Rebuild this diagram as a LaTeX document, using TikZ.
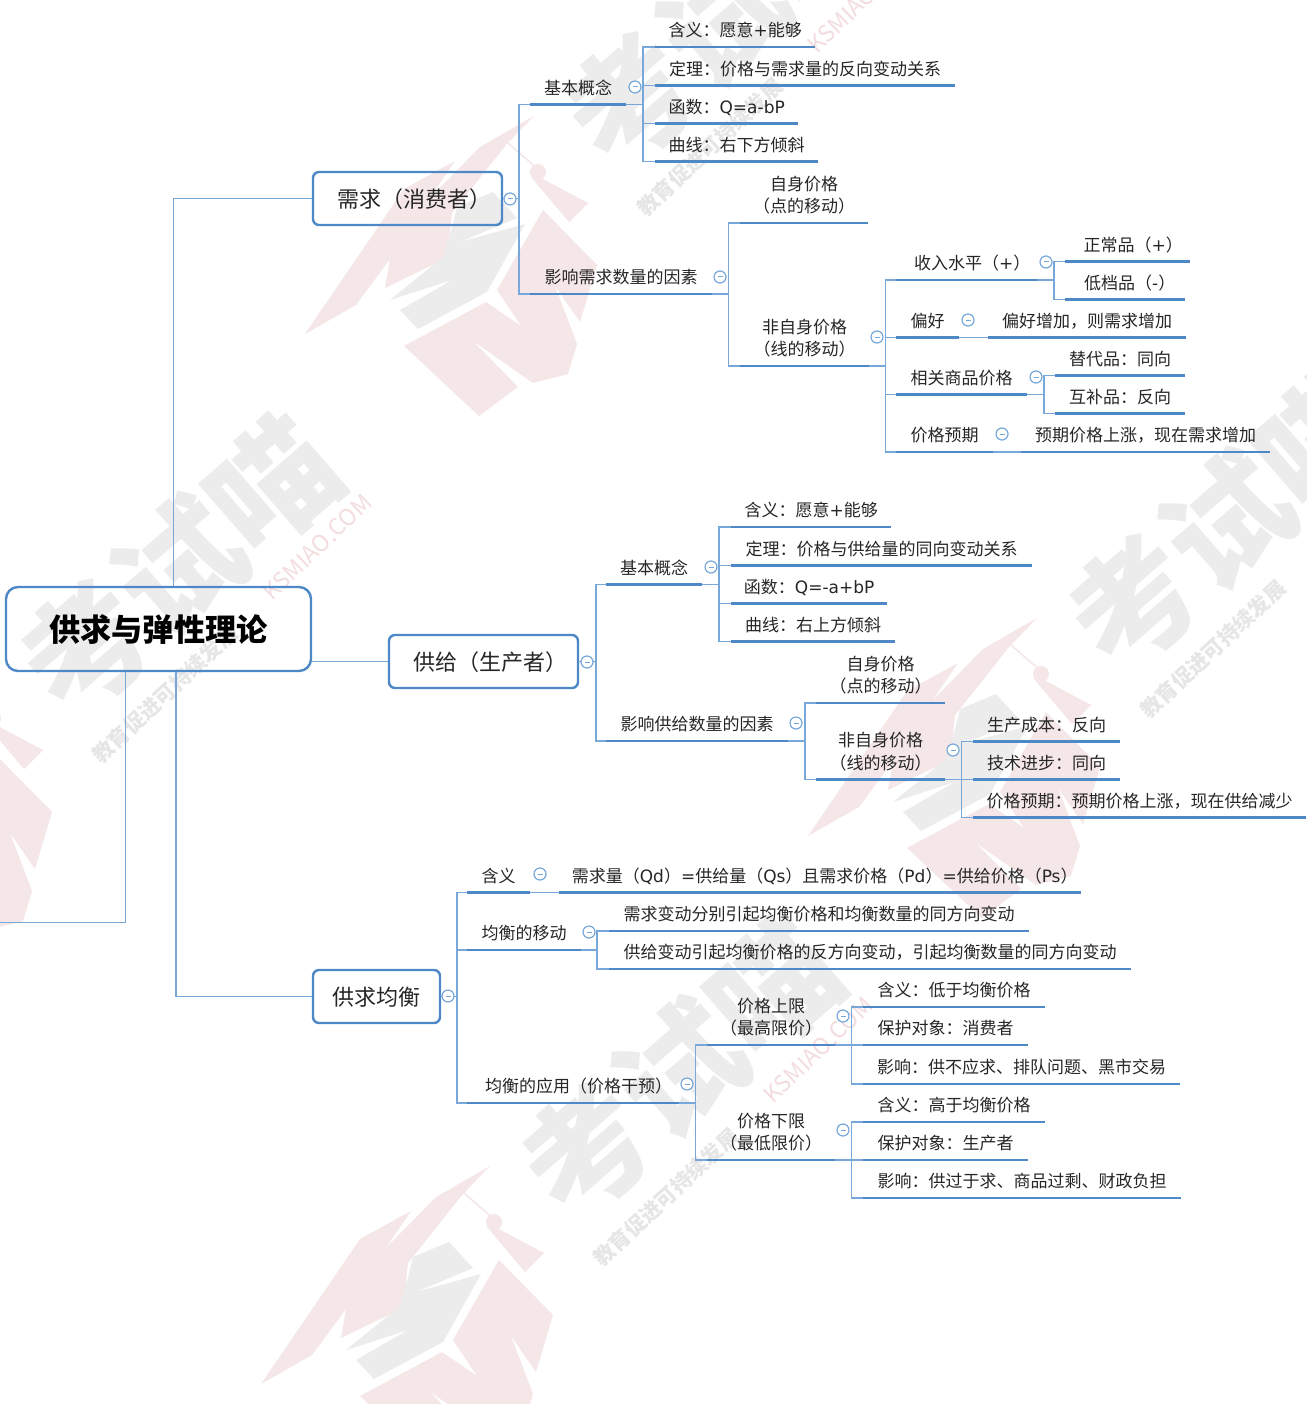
\documentclass[tikz,border=0pt]{standalone}
\usepackage{fontspec}
\setmainfont{Noto Sans CJK SC}
\newfontfamily\latn{DejaVu Sans}
\newcommand{\lt}[1]{{\latn #1}}
\definecolor{boxline}{HTML}{4F88C6}
\definecolor{linkline}{HTML}{78A8DA}
\definecolor{inkdark}{HTML}{262626}
\definecolor{markred}{HTML}{F5E6E7}
\definecolor{markurlc}{HTML}{F3DDDE}
\definecolor{markgrey}{HTML}{ECECEC}
\definecolor{marksmall}{HTML}{E6E6E6}
\tikzset{
 rootbox/.style={draw=boxline,line width=2.4pt,rounded corners=12pt,minimum width=305pt,minimum height=84pt,text height=30pt,text depth=4.4pt,text=black,font=\fontsize{31.2}{36}\selectfont\bfseries},
 lvlbox/.style={draw=boxline,line width=2.4pt,rounded corners=6pt,minimum height=53pt,text height=22pt,text depth=4.2pt,text=inkdark,font=\fontsize{22}{26}\selectfont},
 uline/.style={draw=boxline,line width=2.4pt},
 link/.style={draw=linkline,line width=1.7pt},
 topic/.style={anchor=south west,inner xsep=0pt,inner ysep=7pt,text depth=3pt,align=center,text=inkdark,font=\fontsize{17}{22.5}\selectfont,
  append after command={(\tikzlastnode.south west) edge[uline] (\tikzlastnode.south east)}},
 fold/.style={circle,draw=linkline,fill=white,line width=1.2pt,minimum size=12pt,inner sep=0pt,
  path picture={\draw[draw=linkline,line width=1pt] ([xshift=-2.5pt]path picture bounding box.center) -- ([xshift=2.5pt]path picture bounding box.center);}},
}
\begin{document}
\begin{tikzpicture}[x=1pt,y=-1pt]
\useasboundingbox (0,0) rectangle (1306,1404);
\fill[white] (0,0) rectangle (1306,1404);

% watermark
\begin{scope}
\clip (0,0) rectangle (1306,1404);
\foreach \wx/\wy/\wn in {534/116/a,-11/663/b,1037/618/c,490/1166/d} {
 \begin{scope}[shift={(\wx,\wy)}]
 \fill[markred] (0,0) -- (-54,31) -- (-105,83) -- (-79,45) -- (-130,73) -- (-229,218) -- (-178,189) -- (-144,143) -- (-149,172) -- (-87,142) -- (-82,97) -- (-28,29) -- cycle;
 \draw[markred,line width=1.5pt] (-26,27) -- (5,54);
 \fill[markred] (4,56) circle (8);
 \fill[markred] (5,61) -- (54,87) -- (35,106) -- (-3,61) -- cycle;
 \fill[markred] (-37,174) -- (9,94) -- (63,149) -- (46,206) -- (21,170) -- (43,228) -- (34,258) -- (-1,267) -- (-61,225) -- (-16,271) -- (-55,300) -- (-130,230) -- (-48,186) -- (-13,210) -- cycle;
 \fill[markgrey] (-77,91) -- (-41,76) -- (-17,102) -- (-74,126) -- (-9,108) -- (-47,176) -- (-116,213) -- (-134,194) -- (-82,164) -- (-144,184) -- (-91,141) -- (-81,108) -- cycle;
 \node[rotate=41,text=markgrey,font=\fontsize{124}{130}\selectfont\bfseries] (markbig\wn) at (190,-97) {考试喵};
 \node[rotate=43,text=marksmall,font=\fontsize{21}{24}\selectfont\bfseries] (marksub\wn) at (176,31) {教育促进可持续发展};
 \node[rotate=44,text=markurlc,font=\fontsize{23}{26}\selectfont] (markurl\wn) at (328,-116) {KSMIAO.COM};
 \end{scope}
}
\end{scope}

% main boxes
\node[rootbox] (root) at (158.5,629) {供求与弹性理论};
\node[lvlbox,minimum width=189pt] (dmd) at (407.5,198.5) {\hspace*{13pt}需求（消费者）};
\node[lvlbox,minimum width=189pt] (sup) at (483.5,661.5) {\hspace*{13pt}供给（生产者）};
\node[lvlbox,minimum width=127pt] (eq) at (376.5,996.5) {供求均衡};
\coordinate (leftend) at (0,922.5);

% demand
\node[topic,minimum width=96pt] (dmdbasic) at (530,104.5) {基本概念};
\node[topic,minimum width=160pt] (dmdmean) at (655,47) {含义：愿意\lt{+}能够};
\node[topic,minimum width=300pt] (dmdlaw) at (655,85.5) {定理：价格与需求量的反向变动关系};
\node[topic,minimum width=143pt] (dmdfunc) at (655,123.5) {函数：\lt{Q=a-bP}};
\node[topic,minimum width=163pt] (dmdcurve) at (655,161.5) {曲线：右下方倾斜};
\node[topic,minimum width=182pt] (dmdfact) at (530,294) {影响需求数量的因素};
\node[topic,minimum width=128pt] (dmdown) at (740,223) {自身价格\\（点的移动）};
\node[topic,minimum width=129pt] (dmdother) at (740,366) {非自身价格\\（线的移动）};
\node[topic,minimum width=141pt] (income) at (896,280) {\hspace*{11pt}收入水平（\lt{+}）};
\node[topic,minimum width=125pt] (normal) at (1065,261.5) {\hspace*{11pt}正常品（\lt{+}）};
\node[topic,minimum width=120pt] (inferior) at (1065,299.5) {\hspace*{9pt}低档品（\lt{-}）};
\node[topic,minimum width=63pt] (pref) at (896,337.5) {偏好};
\node[topic,minimum width=198pt] (prefup) at (988,337.5) {偏好增加，则需求增加};
\node[topic,minimum width=131pt] (related) at (896,394.5) {相关商品价格};
\node[topic,minimum width=130pt] (subst) at (1055,375.5) {替代品：同向};
\node[topic,minimum width=130pt] (compl) at (1055,413.5) {互补品：反向};
\node[topic,minimum width=97pt] (expect) at (896,452) {价格预期};
\node[topic,minimum width=249pt] (expectup) at (1021,452) {预期价格上涨，现在需求增加};

% supply
\node[topic,minimum width=96pt] (supbasic) at (606,584.5) {基本概念};
\node[topic,minimum width=160pt] (supmean) at (731,527) {含义：愿意\lt{+}能够};
\node[topic,minimum width=301pt] (suplaw) at (731,565.5) {定理：价格与供给量的同向变动关系};
\node[topic,minimum width=156pt] (supfunc) at (731,603.5) {函数：\lt{Q=-a+bP}};
\node[topic,minimum width=164pt] (supcurve) at (731,641.5) {曲线：右上方倾斜};
\node[topic,minimum width=182pt] (supfact) at (606,741) {影响供给数量的因素};
\node[topic,minimum width=129pt] (supown) at (816,703) {自身价格\\（点的移动）};
\node[topic,minimum width=129pt] (supother) at (816,779.5) {非自身价格\\（线的移动）};
\node[topic,minimum width=147pt] (cost) at (973,741.5) {生产成本：反向};
\node[topic,minimum width=147pt] (tech) at (973,779.5) {技术进步：同向};
\node[topic,minimum width=333pt] (supexpect) at (973,817.5) {价格预期：预期价格上涨，现在供给减少};

% equilibrium
\node[topic,minimum width=63pt] (eqmean) at (467,892.5) {含义};
\node[topic,minimum width=522pt] (eqmeantxt) at (559,892.5) {\hspace*{9pt}需求量（\lt{Qd}）\lt{=}供给量（\lt{Qs}）且需求价格（\lt{Pd}）\lt{=}供给价格（\lt{Ps}）};
\node[topic,minimum width=114pt] (eqshift) at (467,950) {均衡的移动};
\node[topic,minimum width=420pt] (eqdmd) at (609,931) {需求变动分别引起均衡价格和均衡数量的同方向变动};
\node[topic,minimum width=522pt] (eqsup) at (609,969) {供给变动引起均衡价格的反方向变动，引起均衡数量的同方向变动};
\node[topic,minimum width=212pt] (eqapply) at (467,1103) {\hspace*{11pt}均衡的应用（价格干预）};
\node[topic,minimum width=128pt] (ceiling) at (707,1045) {价格上限\\（最高限价）};
\node[topic,minimum width=128pt] (floor) at (707,1160) {价格下限\\（最低限价）};
\node[topic,minimum width=182pt] (ceilmean) at (863,1007) {含义：低于均衡价格};
\node[topic,minimum width=165pt] (ceilwho) at (863,1045) {保护对象：消费者};
\node[topic,minimum width=317pt] (ceilfx) at (863,1084) {影响：供不应求、排队问题、黑市交易};
\node[topic,minimum width=182pt] (floormean) at (863,1122) {含义：高于均衡价格};
\node[topic,minimum width=165pt] (floorwho) at (863,1160) {保护对象：生产者};
\node[topic,minimum width=318pt] (floorfx) at (863,1198) {影响：供过于求、商品过剩、财政负担};

% connectors
\draw[link] ([xshift=15pt]root.north) |- (dmd.west);
\draw[link] (root.east |- sup.west) -- (sup.west);
\draw[link] ([xshift=17.5pt]root.south) |- (eq.west);
\draw[link] ([xshift=-33pt]root.south) |- (leftend);

\foreach \kid in {dmdbasic,dmdfact} \draw[link] (dmd.east) -- ++(16,0) |- (\kid.south west);
\foreach \kid in {dmdmean,dmdlaw,dmdfunc,dmdcurve} \draw[link] (dmdbasic.south east) -- ++(16.5,0) |- (\kid.south west);
\foreach \kid in {dmdown,dmdother} \draw[link] (dmdfact.south east) -- ++(16,0) |- (\kid.south west);
\foreach \kid in {income,pref,related,expect} \draw[link] (dmdother.south east) -- ++(16,0) |- (\kid.south west);
\foreach \kid in {normal,inferior} \draw[link] (income.south east) -- ++(16.5,0) |- (\kid.south west);
\foreach \kid in {subst,compl} \draw[link] (related.south east) -- ++(16.5,0) |- (\kid.south west);
\draw[link] (pref.south east) -- (prefup.south west);
\draw[link] (expect.south east) -- (expectup.south west);

\foreach \kid in {supbasic,supfact} \draw[link] (sup.east) -- ++(16.5,0) |- (\kid.south west);
\foreach \kid in {supmean,suplaw,supfunc,supcurve} \draw[link] (supbasic.south east) -- ++(16.5,0) |- (\kid.south west);
\foreach \kid in {supown,supother} \draw[link] (supfact.south east) -- ++(16.5,0) |- (\kid.south west);
\foreach \kid in {cost,tech,supexpect} \draw[link] (supother.south east) -- ++(16,0) |- (\kid.south west);

\foreach \kid in {eqmean,eqshift,eqapply} \draw[link] (eq.east) -- ++(15.5,0) |- (\kid.south west);
\draw[link] (eqmean.south east) -- (eqmeantxt.south west);
\foreach \kid in {eqdmd,eqsup} \draw[link] (eqshift.south east) -- ++(15.5,0) |- (\kid.south west);
\foreach \kid in {ceiling,floor} \draw[link] (eqapply.south east) -- ++(16,0) |- (\kid.south west);
\foreach \kid in {ceilmean,ceilwho,ceilfx} \draw[link] (ceiling.south east) -- ++(16,0) |- (\kid.south west);
\foreach \kid in {floormean,floorwho,floorfx} \draw[link] (floor.south east) -- ++(16,0) |- (\kid.south west);

% fold marks
\node[fold] (folddmd) at (510,199) {};
\node[fold] (foldbasic) at (635,87) {};
\node[fold] (foldfact) at (720,277) {};
\node[fold] (foldother) at (877,337) {};
\node[fold] (foldincome) at (1046,262) {};
\node[fold] (foldpref) at (968,320) {};
\node[fold] (foldrelated) at (1036,377) {};
\node[fold] (foldexpect) at (1002,434) {};
\node[fold] (foldsup) at (587,662) {};
\node[fold] (foldsupbasic) at (711,567) {};
\node[fold] (foldsupfact) at (796,723) {};
\node[fold] (foldsupother) at (953,750) {};
\node[fold] (foldeq) at (448,996) {};
\node[fold] (foldeqmean) at (540,874) {};
\node[fold] (foldeqshift) at (589,932) {};
\node[fold] (foldeqapply) at (687,1084) {};
\node[fold] (foldceil) at (843,1016) {};
\node[fold] (foldfloor) at (843,1130) {};
\end{tikzpicture}
\end{document}
